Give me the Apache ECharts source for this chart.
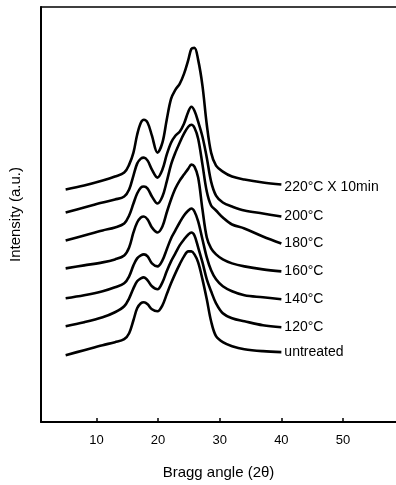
<!DOCTYPE html>
<html>
<head>
<meta charset="utf-8">
<script src="https://cdn.jsdelivr.net/npm/echarts@6/dist/echarts.min.js"></script>
<style>
  html, body { margin: 0; padding: 0; background: #fff; }
  #chart { width: 396px; height: 485px; }
</style>
</head>
<body>
<div id="chart"></div>
<script>
// Bragg angle (2θ) sample points shared by all curves
const angles = [5, 8, 11, 13, 14.5, 15.3, 16, 16.6, 17.2, 17.7, 18.3, 19, 19.9, 20.7, 21.4, 22.1,
  22.8, 23.5, 24.2, 24.9, 25.4, 25.9, 26.5, 27.2, 27.9, 28.6, 29.4, 30.5, 32, 34, 37, 40];

// intensities (a.u., stacked offsets included)
const t220 = [233, 237, 242, 246, 250, 258, 270, 288, 300, 303, 300, 287, 270, 280, 303, 324,
  333, 339, 349, 363, 374, 375, 363, 337, 298, 270, 257, 251, 246, 243, 240, 238];
const t200 = [210, 215, 220, 223, 226, 233, 247, 259, 264, 265, 262, 253, 245, 253, 268, 280,
  287, 291, 299, 311, 316, 312, 301, 286, 265, 241, 227, 220, 216, 212, 209, 206];
const t180 = [182, 187, 192, 195, 199, 207, 219, 229, 235, 236, 234, 226, 219, 226, 241, 258,
  270, 280, 289, 296, 298, 295, 284, 258, 231, 217, 212, 205, 198, 194, 186, 179];
const t160 = [154, 157, 160, 163, 167, 175, 190, 200, 205, 206, 203, 195, 190, 196, 210, 223,
  234, 242, 248, 254, 258, 256, 245, 213, 185, 174, 168, 163, 159, 156, 153, 151];
const t140 = [124, 127, 131, 135, 139, 146, 157, 164, 167, 168, 166, 159, 156, 162, 173, 184,
  192, 200, 207, 212, 214, 211, 201, 183, 165, 152, 143, 136, 131, 127, 125, 123];
const t120 = [96, 100, 105, 110, 116, 124, 134, 141, 144, 145, 142, 136, 133, 140, 151, 161,
  169, 177, 183, 188, 190, 187, 175, 160, 143, 131, 119, 109, 104, 101, 97, 95];
const untreated = [67, 72, 77, 80, 83, 89, 102, 114, 119, 120, 118, 113, 111, 117, 128, 139,
  149, 158, 166, 171, 171, 168, 160, 143, 123, 101, 86, 80, 76, 73, 71, 70];

const curveNames = ['220°C X 10min', '200°C', '180°C', '160°C', '140°C', '120°C', 'untreated'];
const curves = [t220, t200, t180, t160, t140, t120, untreated];
const xTicks = [10, 20, 30, 40, 50];

const font = '"Liberation Sans", Arial, sans-serif';

const myChart = echarts.init(document.getElementById('chart'));
const option = {
  animation: false,
  grid: { left: 40, right: 0, top: 7, bottom: 62 },
  xAxis: [
    {
      type: 'value',
      min: 1,
      max: 58.6,
      position: 'bottom',
      name: 'Bragg angle (2θ)',
      nameLocation: 'middle',
      nameGap: 43,
      nameTextStyle: { color: '#000', fontSize: 15, fontFamily: font },
      axisLine: { lineStyle: { color: '#000', width: 2 } },
      axisTick: { inside: true, length: 4, customValues: xTicks, lineStyle: { color: '#000', width: 1.5 } },
      axisLabel: { customValues: xTicks, margin: 12, color: '#000', fontSize: 13, fontFamily: font },
      splitLine: { show: false }
    },
    {
      type: 'value',
      min: 1,
      max: 58.6,
      position: 'top',
      axisLine: { lineStyle: { color: '#000', width: 1.5 } },
      axisTick: { show: false },
      axisLabel: { show: false },
      splitLine: { show: false }
    }
  ],
  yAxis: {
    type: 'value',
    min: 0,
    max: 416,
    name: 'Intensity (a.u.)',
    nameLocation: 'middle',
    nameRotate: 90,
    nameGap: 18,
    nameTextStyle: { color: '#000', fontSize: 15, fontFamily: font },
    axisLine: { show: true, onZero: false, lineStyle: { color: '#000', width: 2 } },
    axisTick: { show: false },
    axisLabel: { show: false },
    splitLine: { show: false }
  },
  series: curves.map((vals, i) => ({
    type: 'line',
    name: curveNames[i],
    xAxisIndex: 0,
    data: angles.map((a, j) => [a, vals[j]]),
    smooth: 0.35,
    symbol: 'none',
    lineStyle: { color: '#000', width: 2.6 },
    endLabel: {
      show: true,
      formatter: '{a}',
      distance: 3,
      offset: [0, i === 0 ? 3 : 0],
      color: '#000',
      fontSize: 14,
      fontFamily: font
    }
  }))
};
myChart.setOption(option);
</script>
</body>
</html>
